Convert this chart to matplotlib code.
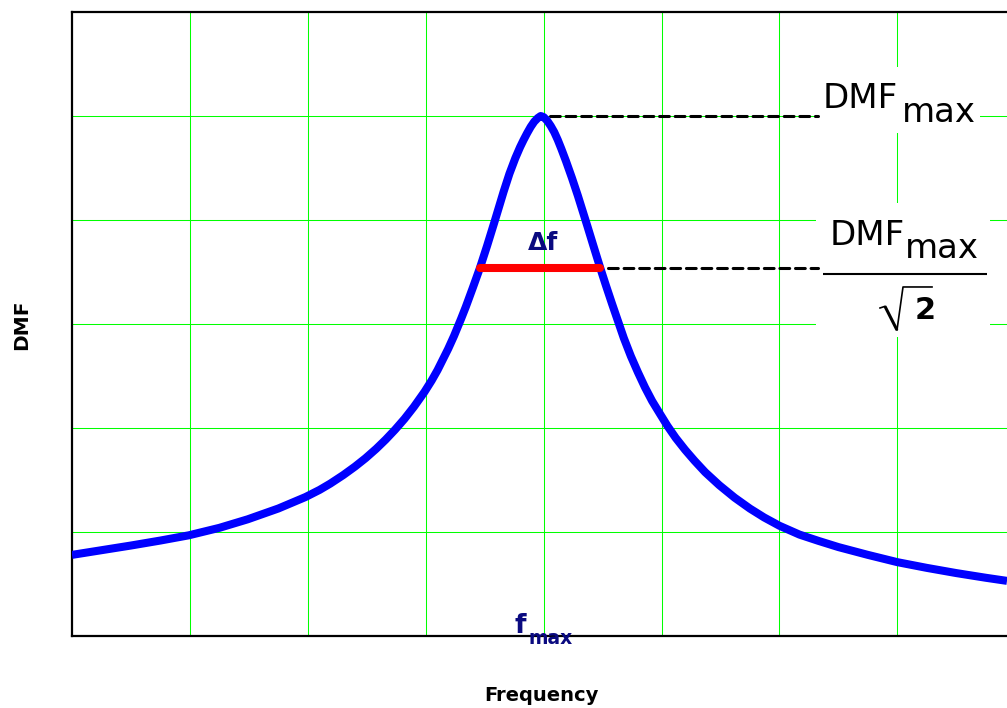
import numpy as np
import matplotlib
matplotlib.use("Agg")
import matplotlib.pyplot as plt
from matplotlib.patches import Rectangle
from matplotlib import font_manager

# Resonance curve: dynamic magnification factor against frequency (grid units)
freq = [0.00, 0.25, 0.50, 0.75, 0.99, 1.25, 1.49, 1.75, 1.98, 2.10, 2.19,
        2.30, 2.40, 2.49, 2.58, 2.66, 2.74, 2.82, 2.90, 2.99, 3.05, 3.10,
        3.19, 3.24, 3.30, 3.34, 3.40, 3.46, 3.52, 3.58, 3.62, 3.66, 3.71,
        3.76, 3.80, 3.83, 3.86, 3.89, 3.92, 3.95, 3.975,
        4.00, 4.03, 4.06, 4.09, 4.12, 4.15, 4.19, 4.24, 4.29, 4.33, 4.37,
        4.42, 4.48, 4.53, 4.58, 4.63, 4.68, 4.74, 4.80, 4.86, 4.92, 4.99,
        5.05, 5.12, 5.20, 5.28, 5.37, 5.49, 5.62, 5.75, 5.87, 6.00,
        6.17, 6.33, 6.50, 6.75, 7.00, 7.25, 7.50, 7.75, 7.93]
dmf = [0.78, 0.825, 0.87, 0.918, 0.968, 1.04, 1.122, 1.226, 1.336, 1.405,
       1.465, 1.547, 1.629, 1.71, 1.80, 1.888, 1.984, 2.088, 2.204, 2.348,
       2.456, 2.556, 2.76, 2.885, 3.05, 3.165, 3.35, 3.54, 3.75, 3.97, 4.12,
       4.27, 4.445, 4.595, 4.70, 4.77, 4.835, 4.895, 4.945, 4.98, 5.00,
       4.99, 4.955, 4.905, 4.845, 4.77, 4.685, 4.565, 4.405, 4.235, 4.09,
       3.945, 3.76, 3.54, 3.365, 3.195, 3.03, 2.865, 2.69, 2.535, 2.39,
       2.26, 2.13, 2.02, 1.905, 1.79, 1.685, 1.575, 1.45, 1.33, 1.225,
       1.14, 1.06, 0.975, 0.915, 0.855, 0.78, 0.71, 0.655, 0.605, 0.56,
       0.53]

# Half-power bandwidth limits
band_lo = 3.46
band_hi = 4.48

x_grid = [1, 2, 3, 4, 5, 6, 7]
y_grid = [1, 2, 3, 4, 5]

f_peak = freq[int(np.argmax(dmf))]
dmf_max = max(dmf)
dmf_half = dmf_max / np.sqrt(2)

W, H = 1007, 708
fig = plt.figure(figsize=(W / 100, H / 100), dpi=100)
ax = fig.add_axes([72 / W, 1 - 636 / H, 1 - 72 / W, (636 - 12) / H])
ax.set_xlim(0, 7.93)
ax.set_ylim(0, 6)

ax.set_xticks(x_grid)
ax.set_yticks(y_grid)
ax.tick_params(length=0, labelbottom=False, labelleft=False)
ax.grid(True, color="#00ff00", linewidth=0.75)

for side in ("left", "bottom", "top"):
    ax.spines[side].set_linewidth(1.6)
    ax.spines[side].set_color("black")
ax.spines["right"].set_visible(False)

# White panels behind the right-hand labels
ax.add_patch(Rectangle((6.33, 4.84), 1.37, 0.63, facecolor="white",
                       edgecolor="none", zorder=2))
ax.add_patch(Rectangle((6.31, 2.875), 1.48, 1.285, facecolor="white",
                       edgecolor="none", zorder=2))

# Curve
ax.plot(freq, dmf, color="#0000ff", linewidth=5.8, solid_capstyle="butt",
        solid_joinstyle="round", zorder=4)

# Half-power bandwidth
ax.plot([band_lo, band_hi], [dmf_half, dmf_half], color="#ff0000",
        linewidth=5.8, solid_capstyle="round", zorder=5)

# Reference dashes
ax.plot([f_peak + 0.08, 6.33], [dmf_max, dmf_max], color="black",
        linewidth=2.2, dashes=(3.2, 1.9), dash_capstyle="round", zorder=3)
ax.plot([band_hi + 0.07, 6.33], [dmf_half, dmf_half], color="black",
        linewidth=2.2, dashes=(3.2, 1.9), dash_capstyle="round", zorder=3)

available = {f.name for f in font_manager.fontManager.ttflist}
narrow = "Liberation Sans Narrow" if "Liberation Sans Narrow" in available else None

# Labels on the right
ax.text(6.37, 5.077, "DMF", fontsize=24.5, family="DejaVu Sans",
        ha="left", va="baseline", zorder=6)
ax.text(7.04, 4.94, "max", fontsize=24.5, family="DejaVu Sans",
        ha="left", va="baseline", zorder=6)

ax.text(6.429, 3.76, "DMF", fontsize=24.5, family="DejaVu Sans",
        ha="left", va="baseline", zorder=6)
ax.text(7.065, 3.635, "max", fontsize=24.5, family="DejaVu Sans",
        ha="left", va="baseline", zorder=6)
ax.plot([6.37, 7.76], [3.48, 3.48], color="black", linewidth=1.5,
        solid_capstyle="butt", clip_on=False, zorder=6)
# radical sign
ax.plot([6.853, 6.895], [3.154, 3.17], color="black", linewidth=1.2,
        clip_on=False, zorder=6)
ax.plot([6.895, 6.997], [3.17, 2.942], color="black", linewidth=2.2,
        solid_capstyle="butt", clip_on=False, zorder=6)
ax.plot([6.997, 7.048, 7.294], [2.942, 3.356, 3.356], color="black",
        linewidth=1.2, clip_on=False, zorder=6)
if narrow:
    ax.text(7.16, 3.05, "2", fontsize=29, family=narrow, fontweight="bold",
            ha="left", va="baseline", zorder=6)
else:
    ax.text(7.15, 3.05, "2", fontsize=22, family="DejaVu Sans",
            fontweight="bold", ha="left", va="baseline", zorder=6)

# Bandwidth and peak-frequency labels
navy = "#0a0a80"
ax.text(3.995, 3.71, "\u0394f", fontsize=18, fontweight="bold", color=navy,
        family="DejaVu Sans", ha="center", va="baseline", zorder=6)
ax.text(3.75, 0.03, "f", fontsize=19, fontweight="bold", color=navy,
        family="DejaVu Sans", ha="left", va="baseline", clip_on=False,
        zorder=6)
ax.text(3.87, -0.077, "max", fontsize=13.5, fontweight="bold", color=navy,
        family="DejaVu Sans", ha="left", va="baseline", clip_on=False,
        zorder=6)

# Axis titles
fig.text(541 / W, 1 - 701 / H, "Frequency", fontsize=14, fontweight="bold",
         family="DejaVu Sans", ha="center", va="baseline")
fig.text(22 / W, 1 - 325 / H, "DMF", fontsize=14.5, fontweight="bold",
         family="DejaVu Sans", rotation=90, ha="center", va="center")

fig.savefig("out.png", dpi=100, facecolor="white")
